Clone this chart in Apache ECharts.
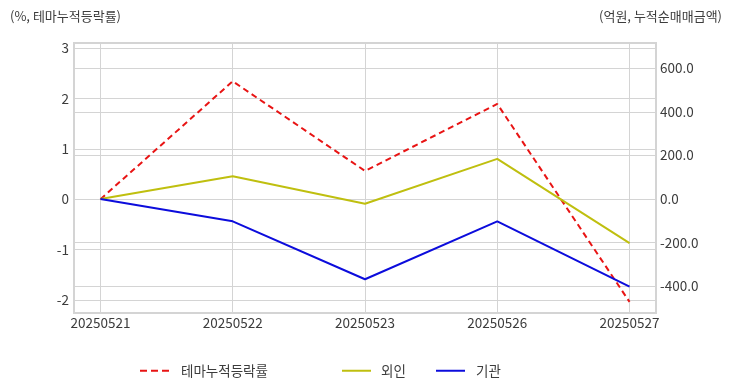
<!DOCTYPE html>
<html>
<head>
<meta charset="utf-8">
<script src="https://cdn.jsdelivr.net/npm/echarts@6/dist/echarts.min.js"></script>
<style>
html,body{margin:0;padding:0;background:#fff;}
#c{width:732px;height:392px;}
</style>
</head>
<body>
<div id="c"></div>
<script>
const categories = ['20250521', '20250522', '20250523', '20250526', '20250527'];
const themeReturn = [0, 2.34, 0.56, 1.89, -2.04];      // % (left axis)
const foreign = [0, 104, -22, 184, -203];               // 억원 (right axis)
const institution = [0, -103, -369, -103, -403];        // 억원 (right axis)
const seriesNames = ['테마누적등락률', '외인', '기관'];
const leftTitle = '(%, 테마누적등락률)';
const rightTitle = '(억원, 누적순매매금액)';

const FONT = '"Noto Sans CJK KR", "Noto Sans", sans-serif';
const GRID_COLOR = '#d4d4d4';
const TEXT_COLOR = '#3c3c3c';

const toPoints = arr => arr.map((v, i) => [i, v]);

const legendCommon = {
  top: 359, itemWidth: 29, itemHeight: 14,
  itemStyle: {opacity: 0, borderWidth: 0},
};

const chart = echarts.init(document.getElementById('c'), null, {renderer: 'canvas'});
chart.setOption({
  animation: false,
  textStyle: {fontFamily: FONT},
  title: [
    {text: leftTitle, left: 5, top: 5, textStyle: {fontSize: 13, fontWeight: 'normal', color: TEXT_COLOR, fontFamily: FONT}},
    {text: rightTitle, right: 5, top: 5, textStyle: {fontSize: 13, fontWeight: 'normal', color: TEXT_COLOR, fontFamily: FONT}}
  ],
  grid: {
    left: 74, right: 76, top: 43, bottom: 79,
    show: true, borderColor: GRID_COLOR, borderWidth: 2, backgroundColor: 'transparent',
    containLabel: false
  },
  legend: [
    Object.assign({data: [seriesNames[0]], left: 134,
     lineStyle: {type: [7, 4], width: 2},
     textStyle: {fontSize: 13.5, color: TEXT_COLOR, fontFamily: FONT, padding: [0, 0, 0, 7]}}, legendCommon),
    Object.assign({data: [seriesNames[1]], left: 336,
     textStyle: {fontSize: 13.5, color: TEXT_COLOR, fontFamily: FONT, padding: [0, 0, 0, 5]}}, legendCommon),
    Object.assign({data: [seriesNames[2]], left: 430,
     textStyle: {fontSize: 13.5, color: TEXT_COLOR, fontFamily: FONT, padding: [0, 0, 0, 6]}}, legendCommon)
  ],
  xAxis: {
    type: 'value', min: -0.2, max: 4.2, minInterval: 1, maxInterval: 1,
    axisLine: {show: false}, axisTick: {show: false},
    splitLine: {show: true, lineStyle: {color: GRID_COLOR, width: 1}},
    axisLabel: {
      show: true, color: TEXT_COLOR, fontSize: 13.5, margin: 3, fontFamily: FONT,
      showMinLabel: false, showMaxLabel: false,
      formatter: v => (Math.abs(v - Math.round(v)) < 1e-9 && categories[Math.round(v)]) ? categories[Math.round(v)] : ''
    }
  },
  yAxis: [
    {
      type: 'value', position: 'left', min: -2.26, max: 3.1, minInterval: 1, maxInterval: 1,
      axisLine: {show: false}, axisTick: {show: false},
      splitLine: {show: true, lineStyle: {color: GRID_COLOR, width: 1}},
      axisLabel: {color: TEXT_COLOR, fontSize: 13.5, margin: 5, fontFamily: FONT,
        showMinLabel: false, showMaxLabel: false,
        formatter: v => Math.abs(v - Math.round(v)) < 1e-9 ? String(Math.round(v)) : ''}
    },
    {
      type: 'value', position: 'right', min: -524, max: 716, minInterval: 200, maxInterval: 200,
      axisLine: {show: false}, axisTick: {show: false},
      splitLine: {show: true, lineStyle: {color: GRID_COLOR, width: 1}},
      axisLabel: {color: TEXT_COLOR, fontSize: 13.5, margin: 4, fontFamily: FONT,
        showMinLabel: false, showMaxLabel: false,
        formatter: v => (Math.abs(v % 200) < 1e-9) ? v.toFixed(1) : ''}
    }
  ],
  series: [
    {name: seriesNames[0], type: 'line', yAxisIndex: 0, data: toPoints(themeReturn),
     symbol: 'none', color: '#e81414',
     lineStyle: {color: '#e81414', width: 2, type: [6, 4]}},
    {name: seriesNames[1], type: 'line', yAxisIndex: 1, data: toPoints(foreign),
     symbol: 'none', color: '#bfbf0f',
     lineStyle: {color: '#bfbf0f', width: 2}},
    {name: seriesNames[2], type: 'line', yAxisIndex: 1, data: toPoints(institution),
     symbol: 'none', color: '#0c0cdc',
     lineStyle: {color: '#0c0cdc', width: 2}}
  ]
});
</script>
</body>
</html>
